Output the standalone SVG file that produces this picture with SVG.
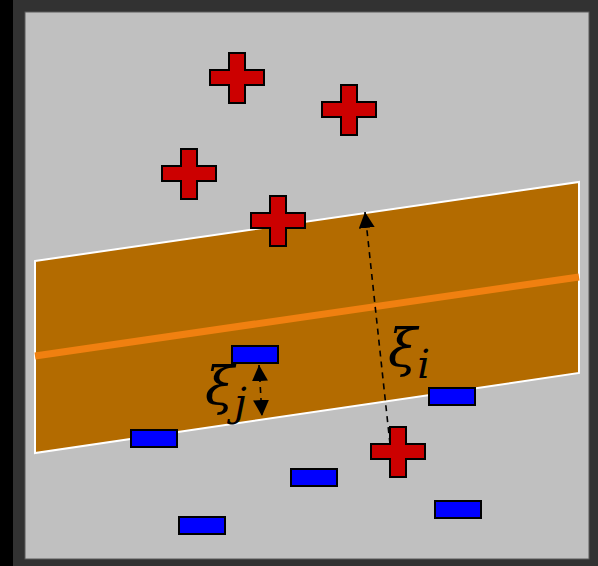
<svg xmlns="http://www.w3.org/2000/svg" width="598" height="566" viewBox="0 0 598 566">
<defs>
<style>
.plus{fill:#cc0000;stroke:#000;stroke-width:2;stroke-linejoin:miter}
.minus{fill:#0000ff;stroke:#000;stroke-width:2}
.dash{fill:none;stroke:#000;stroke-width:1.6;stroke-dasharray:6,5}
.lbl{font-family:"DejaVu Serif","Liberation Serif",serif;font-style:italic;fill:#000}
</style>
<marker id="ahb" viewBox="0 0 16 16" refX="16" refY="8" markerWidth="16" markerHeight="16" markerUnits="userSpaceOnUse" orient="auto-start-reverse">
<path d="M0,0 L16,8 L0,16 z" fill="#000"/>
</marker>
<path id="cross" d="M-8,-25 H8 V-8 H27 V7 H8 V25 H-8 V7 H-27 V-8 H-8 Z"/>
</defs>
<rect width="598" height="566" fill="#323232"/>
<rect x="0" y="0" width="13" height="566" fill="#000"/>
<rect x="25" y="12" width="564" height="547" fill="#c0c0c0" stroke="#5a5a5a" stroke-width="1"/>
<g id="margin-band">
<polygon points="35,261 579,182 579,373 35,453" fill="#b36b00" stroke="#fff" stroke-width="2"/>
<line x1="35" y1="356" x2="579" y2="277" stroke="#f08010" stroke-width="7"/>
</g>
<g id="connectors">
<line class="dash" x1="390" y1="444" x2="365" y2="212" marker-end="url(#ahb)"/>
<line class="dash" x1="259" y1="365" x2="262" y2="416" marker-start="url(#ahb)" marker-end="url(#ahb)"/>
</g>
<g id="pos1"><use href="#cross" class="plus" transform="translate(237,78)"/></g>
<g id="pos2"><use href="#cross" class="plus" transform="translate(349,110)"/></g>
<g id="pos3"><use href="#cross" class="plus" transform="translate(189,174)"/></g>
<g id="pos4"><use href="#cross" class="plus" transform="translate(278,221)"/></g>
<g id="pos5"><use href="#cross" class="plus" transform="translate(398,452)"/></g>
<g id="neg1"><rect class="minus" x="232" y="346" width="46" height="17"/></g>
<g id="neg2"><rect class="minus" x="429" y="388" width="46" height="17"/></g>
<g id="neg3"><rect class="minus" x="131" y="430" width="46" height="17"/></g>
<g id="neg4"><rect class="minus" x="179" y="517" width="46" height="17"/></g>
<g id="neg5"><rect class="minus" x="291" y="469" width="46" height="17"/></g>
<g id="neg6"><rect class="minus" x="435" y="501" width="46" height="17"/></g>
<g id="labels">
<text class="lbl" x="388" y="366" font-size="53">ξ<tspan font-size="40" dy="12">i</tspan></text>
<text class="lbl" x="205" y="404" font-size="53">ξ<tspan font-size="40" dy="12">j</tspan></text>
</g>
</svg>
